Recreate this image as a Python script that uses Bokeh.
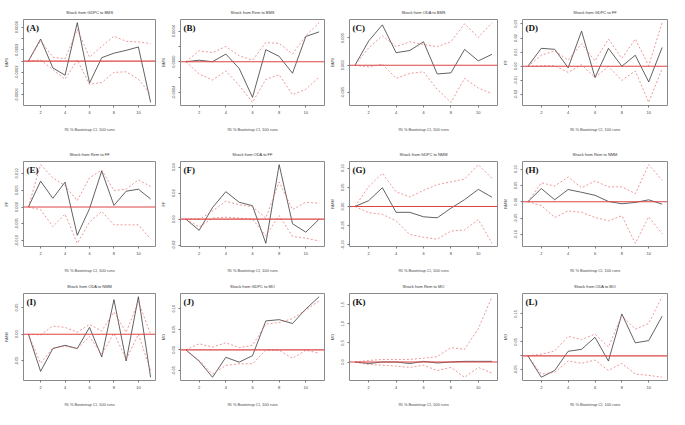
from bokeh.plotting import figure
from bokeh.layouts import gridplot
from bokeh.models import Label, FixedTicker, Span, Range1d, PrintfTickFormatter
from bokeh.embed import file_html
from bokeh.resources import INLINE

steps = [1, 2, 3, 4, 5, 6, 7, 8, 9, 10, 11]
x_ticks = [2, 4, 6, 8, 10]
x_label = "95 % Bootstrap CI, 100 runs"

# (A) Shock from GDPC to BMS
a_irf = [0, 0.00039, -0.00012, -0.00025, 0.00068, -0.00039, 0.00006, 0.00014, 0.00019, 0.00025, -0.00073]
a_upper = [0, 0.00036, 0.00007, 0.00004, 0.00056, 0.00007, 0.00026, 0.00044, 0.00035, 0.00034, 0.00031]
a_lower = [0, 0.00002, -0.00015, -0.00032, 0.00002, -0.00041, -0.00038, -0.0002, -0.00019, -0.00032, -0.00059]
a_ticks = [-0.0006, -0.0002, 0.0002, 0.0006]
a_minor = [-0.0004, 0.0, 0.0004]

# (B) Shock from Rem to BMS
b_irf = [0, 0.00002, 0, 0.0001, -0.000087, -0.000465, 0.000157, 0.00007, -0.00015, 0.00033, 0.00039]
b_upper = [0, 0.000143, 0.00012, 0.0002, 0.000078, 0.00002, 0.00025, 0.00024, 0.0001, 0.00034, 0.00051]
b_lower = [0, -0.00016, -0.00024, -0.00012, -0.00031, -0.00053, -0.00023, -0.00017, -0.00043, -0.00036, -0.0002]
b_ticks = [-0.0004, 0.0, 0.0004]
b_minor = [-0.0002, 0.0002]

# (C) Shock from ODA to BMS
c_irf = [0, 0.00445, 0.0074, 0.0023, 0.0027, 0.0043, -0.0016, -0.0014, 0.0029, 0.0008, 0.002]
c_upper = [0, 0.0032, 0.0054, 0.0034, 0.0043, 0.0038, 0.0034, 0.0043, 0.0076, 0.0051, 0.0078]
c_lower = [0, -0.0003, 0.0002, -0.0024, -0.0015, -0.0012, -0.0044, -0.0068, -0.0024, -0.0042, -0.0052]
c_ticks = [-0.005, 0.0, 0.005]
c_minor = []

# (D) Shock from GDPC to FF
d_irf = [0, 0.0127, 0.012, -0.0011, 0.0249, -0.008, 0.0127, 0, 0.0078, -0.0111, 0.0133]
d_upper = [0, 0.0078, 0.0109, 0.0044, 0.016, 0.0038, 0.0193, 0.0056, 0.0193, 0.0004, 0.0309]
d_lower = [0, 0.0004, 0.0004, -0.0044, 0.0011, -0.008, -0.0002, -0.01, -0.0033, -0.0256, -0.0018]
d_ticks = [-0.02, -0.01, 0.0, 0.01, 0.02, 0.03]
d_minor = []

# (E) Shock from Rem to FF
e_irf = [0, 0.0077, 0.0026, 0.0074, -0.0084, -0.0005, 0.0107, 0.0005, 0.0047, 0.0053, 0.0024]
e_upper = [0, 0.0126, 0.0087, 0.0063, 0.0019, 0.0087, 0.011, 0.0049, 0.0053, 0.0081, 0.0061]
e_lower = [0, -0.0008, -0.0058, -0.0021, -0.0108, -0.0045, -0.0013, -0.0053, -0.0053, -0.0053, -0.0095]
e_ticks = [-0.01, -0.005, 0.0, 0.005, 0.01]
e_minor = []

# (F) Shock from ODA to FF
f_irf = [0, -0.0086, 0.0089, 0.0211, 0.013, 0.0103, -0.0186, 0.0419, -0.0035, -0.01, 0]
f_upper = [0, 0, 0.0062, 0.0138, 0.0111, 0.0095, 0.0008, 0.0286, 0.0073, 0.013, 0.0122]
f_lower = [0, -0.006, 0.0008, 0.0016, 0.0008, 0, -0.0127, 0.0027, -0.0132, -0.0146, -0.0168]
f_ticks = [-0.02, 0.0, 0.02, 0.04]
f_minor = []

# (G) Shock from GDPC to NMM
g_irf = [0, 0.0152, 0.049, -0.0152, -0.0152, -0.0268, -0.0295, -0.0045, 0.0179, 0.0446, 0.0241]
g_upper = [0, 0.0518, 0.0866, 0.0384, 0.025, 0.042, 0.057, 0.064, 0.0714, 0.109, 0.0732]
g_lower = [0, -0.016, -0.0205, -0.0375, -0.073, -0.08, -0.085, -0.064, -0.061, -0.034, -0.096]
g_ticks = [-0.1, -0.05, 0.0, 0.05, 0.1]
g_minor = []

# (H) Shock from Rem to NMM
h_irf = [0, 0.0406, 0.0062, 0.0375, 0.029, 0.0198, 0.001, -0.006, -0.002, 0.006, -0.0073]
h_upper = [0, 0.058, 0.048, 0.076, 0.0427, 0.0635, 0.0458, 0.0458, 0.025, 0.1135, 0.0656]
h_lower = [0, -0.0115, -0.048, -0.028, -0.032, -0.048, -0.058, -0.0427, -0.127, -0.0458, -0.098]
h_ticks = [-0.1, -0.05, 0.0, 0.05, 0.1]
h_minor = []

# (I) Shock from ODA to NMM
i_irf = [0, -0.0695, -0.0268, -0.0207, -0.0268, 0.0128, -0.0427, 0.0646, -0.05, 0.0701, -0.0805]
i_upper = [0, -0.0012, 0.0152, 0.0128, 0.0037, 0.0183, 0.0061, 0.0415, 0.0037, 0.061, 0]
i_lower = [0, -0.0543, -0.0256, -0.0226, -0.0268, -0.0043, -0.0378, 0.0018, -0.047, 0, -0.0683]
i_ticks = [-0.05, 0.0, 0.05]
i_minor = []

# (J) Shock from GDPC to MO
j_irf = [0, -0.0273, -0.0664, -0.018, -0.0297, -0.014, 0.0703, 0.0734, 0.064, 0.0992, 0.129]
j_upper = [0, 0.0148, 0.007, 0.0172, 0.0055, 0.011, 0.0625, 0.0664, 0.0758, 0.097, 0.119]
j_lower = [0, -0.0258, -0.0586, -0.0375, -0.0336, -0.0336, -0.0008, -0.0008, -0.0203, -0.0008, -0.0078]
j_ticks = [-0.05, 0.0, 0.05, 0.1]
j_minor = []

# (K) Shock from Rem to MO
k_irf = [0, -0.04, 0, 0, -0.04, 0.017, -0.025, 0, 0.017, 0.017, 0.017]
k_upper = [0, 0.04, 0.067, 0.067, 0.067, 0.1, 0.14, 0.375, 0.333, 0.875, 1.71]
k_lower = [0, -0.067, -0.083, -0.108, -0.142, -0.083, -0.225, -0.142, -0.4, -0.142, -0.29]
k_ticks = [0.0, 0.5, 1.0, 1.5]
k_minor = []

# (L) Shock from ODA to MO
l_irf = [0, -0.0767, -0.0523, 0.0163, 0.0233, 0.0663, -0.0186, 0.15, 0.0465, 0.0547, 0.142]
l_upper = [0, 0.0058, 0.0174, 0.0698, 0.0581, 0.0779, 0.0314, 0.145, 0.0953, 0.116, 0.2116]
l_lower = [0, -0.065, -0.059, -0.0186, -0.0267, -0.0151, -0.0523, -0.0267, -0.065, -0.0698, -0.0767]
l_ticks = [-0.05, 0.05, 0.15]
l_minor = [0.0, 0.1]

tags = ["(A)", "(B)", "(C)", "(D)", "(E)", "(F)", "(G)", "(H)", "(I)", "(J)", "(K)", "(L)"]
titles = ["Shock from GDPC to BMS", "Shock from Rem to BMS", "Shock from ODA to BMS", "Shock from GDPC to FF",
          "Shock from Rem to FF", "Shock from ODA to FF", "Shock from GDPC to NMM", "Shock from Rem to NMM",
          "Shock from ODA to NMM", "Shock from GDPC to MO", "Shock from Rem to MO", "Shock from ODA to MO"]
ylabels = ["BMS", "BMS", "BMS", "FF", "FF", "FF", "NMM", "NMM", "NMM", "MO", "MO", "MO"]
formats = ["%.4f", "%.4f", "%.3f", "%.2f", "%.3f", "%.2f", "%.2f", "%.2f", "%.2f", "%.2f", "%.1f", "%.2f"]

panels = [
    (a_irf, a_lower, a_upper, a_ticks, a_minor),
    (b_irf, b_lower, b_upper, b_ticks, b_minor),
    (c_irf, c_lower, c_upper, c_ticks, c_minor),
    (d_irf, d_lower, d_upper, d_ticks, d_minor),
    (e_irf, e_lower, e_upper, e_ticks, e_minor),
    (f_irf, f_lower, f_upper, f_ticks, f_minor),
    (g_irf, g_lower, g_upper, g_ticks, g_minor),
    (h_irf, h_lower, h_upper, h_ticks, h_minor),
    (i_irf, i_lower, i_upper, i_ticks, i_minor),
    (j_irf, j_lower, j_upper, j_ticks, j_minor),
    (k_irf, k_lower, k_upper, k_ticks, k_minor),
    (l_irf, l_lower, l_upper, l_ticks, l_minor),
]

col_widths = [157, 169, 173, 170]
row_heights = [134, 141, 134]
row_tops = [19, 27, 18]
row_bottoms = [29, 29, 26]

FONT = "Liberation Sans"
RED = "#e86a6a"


def make_panel(idx):
    irf, lower, upper, ticks, minor = panels[idx]
    r, c = divmod(idx, 4)
    vals = list(irf) + list(lower) + list(upper)
    lo, hi = min(vals), max(vals)
    pad = 0.04 * (hi - lo)
    xpad = 0.04 * (max(steps) - min(steps))
    x0, x1 = min(steps) - xpad, max(steps) + xpad
    y0, y1 = lo - pad, hi + pad
    p = figure(width=col_widths[c], height=row_heights[r], output_backend="svg", toolbar_location=None,
               x_range=Range1d(x0, x1), y_range=Range1d(y0, y1),
               min_border_left=18, min_border_right=2,
               min_border_top=row_tops[r], min_border_bottom=row_bottoms[r])
    p.background_fill_color = "white"
    p.border_fill_color = "white"
    p.outline_line_color = "#8a8a8a"
    p.outline_line_width = 1
    p.xgrid.visible = False
    p.ygrid.visible = False

    p.title.text = titles[idx]
    p.title.text_font = FONT
    p.title.text_font_size = "4px"
    p.title.text_font_style = "normal"
    p.title.text_color = "#333333"
    p.title.align = "center"
    p.title.standoff = 9

    p.xaxis.ticker = FixedTicker(ticks=x_ticks)
    p.yaxis.ticker = FixedTicker(ticks=ticks, minor_ticks=minor)
    p.yaxis.formatter = PrintfTickFormatter(format=formats[idx])
    p.xaxis.axis_label = x_label
    p.yaxis.axis_label = ylabels[idx]
    for ax in (p.xaxis, p.yaxis):
        ax.axis_line_color = None
        ax.major_tick_in = 0
        ax.major_tick_out = 2
        ax.minor_tick_in = 0
        ax.minor_tick_out = 2
        ax.major_tick_line_color = "#777777"
        ax.minor_tick_line_color = "#777777"
        ax.major_label_text_font = FONT
        ax.major_label_text_font_size = "4px"
        ax.major_label_text_color = "#444444"
        ax.axis_label_text_font = FONT
        ax.axis_label_text_font_size = "4px"
        ax.axis_label_text_font_style = "normal"
        ax.axis_label_text_color = "#444444"
        ax.major_label_standoff = 3
    p.xaxis.axis_label_standoff = 10
    p.yaxis.axis_label_standoff = 4
    p.yaxis.major_label_orientation = "vertical"

    p.line(steps, irf, line_color="#3a3a3a", line_width=0.8)
    p.line(steps, upper, line_color=RED, line_width=0.7, line_dash="2 2")
    p.line(steps, lower, line_color=RED, line_width=0.7, line_dash="2 2")
    p.add_layout(Span(location=0, dimension="width", line_color="#dc4444", line_width=1.1))

    p.add_layout(Label(x=x0, y=y1, x_offset=3, y_offset=-3, text=tags[idx],
                       text_font="Liberation Serif", text_font_style="bold",
                       text_font_size="9px", text_baseline="top", text_color="#111111"))
    return p


figs = [make_panel(i) for i in range(12)]
rows = [figs[0:4], figs[4:8], figs[8:12]]
grid = gridplot(rows, toolbar_location=None)

open("out.html", "w").write(file_html(grid, INLINE))
